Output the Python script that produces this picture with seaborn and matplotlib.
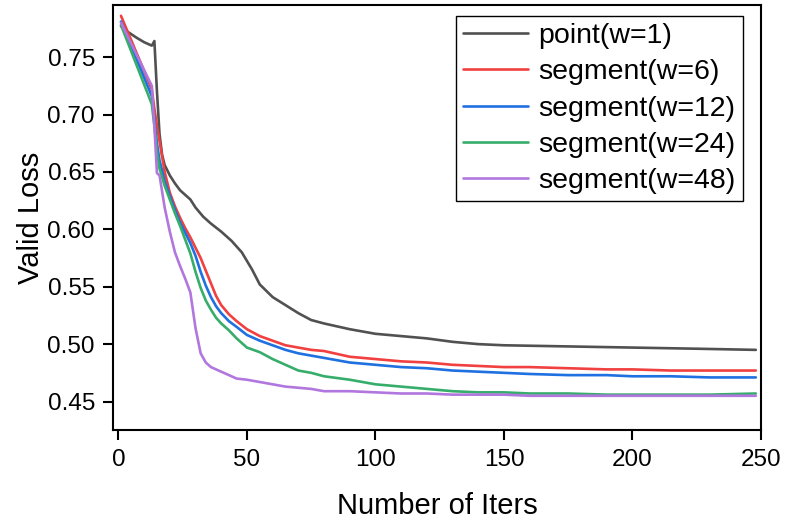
import pandas as pd
import matplotlib
matplotlib.use('Agg')
import matplotlib.pyplot as plt
import seaborn as sns

# 曲线数据
iters_point = [1, 3, 7, 10, 13, 14, 15, 16, 17, 18, 20, 22, 24, 26, 28, 30, 33, 36, 40, 44, 48, 52, 55,
               60, 65, 70, 75, 80, 90, 100, 110, 120, 130, 140, 150, 175, 200, 225, 248]
loss_point = [0.777, 0.773, 0.767, 0.763, 0.760, 0.764, 0.720, 0.683, 0.665, 0.656, 0.647, 0.640, 0.634,
              0.630, 0.626, 0.619, 0.611, 0.605, 0.598, 0.590, 0.580, 0.565, 0.552, 0.541, 0.534, 0.527,
              0.521, 0.518, 0.513, 0.509, 0.507, 0.505, 0.502, 0.500, 0.499, 0.498, 0.497, 0.496, 0.495]

iters = [1, 13, 14, 15, 16, 18, 20, 22, 24, 26, 28, 30, 32, 34, 36, 38, 40, 43, 46, 50, 55, 60, 65, 70,
         75, 80, 90, 100, 110, 120, 130, 140, 150, 160, 175, 190, 200, 215, 230, 248]
loss_w6 = [0.786, 0.722, 0.705, 0.690, 0.677, 0.650, 0.632, 0.620, 0.610, 0.601, 0.593, 0.584, 0.575,
           0.564, 0.553, 0.542, 0.534, 0.526, 0.520, 0.513, 0.507, 0.503, 0.499, 0.497, 0.495, 0.494,
           0.489, 0.487, 0.485, 0.484, 0.482, 0.481, 0.480, 0.480, 0.479, 0.478, 0.478, 0.477, 0.477, 0.477]
loss_w12 = [0.781, 0.716, 0.695, 0.675, 0.660, 0.642, 0.629, 0.617, 0.606, 0.597, 0.588, 0.577, 0.563,
            0.551, 0.541, 0.533, 0.527, 0.520, 0.515, 0.508, 0.503, 0.499, 0.495, 0.492, 0.490, 0.488,
            0.484, 0.482, 0.480, 0.479, 0.477, 0.476, 0.475, 0.474, 0.473, 0.473, 0.472, 0.472, 0.471, 0.471]
loss_w24 = [0.778, 0.709, 0.690, 0.668, 0.653, 0.638, 0.626, 0.614, 0.603, 0.591, 0.579, 0.563, 0.549,
            0.538, 0.530, 0.523, 0.518, 0.512, 0.505, 0.497, 0.493, 0.487, 0.482, 0.477, 0.475, 0.472,
            0.469, 0.465, 0.463, 0.461, 0.459, 0.458, 0.458, 0.457, 0.457, 0.456, 0.456, 0.456, 0.456, 0.457]
loss_w48 = [0.780, 0.725, 0.690, 0.649, 0.647, 0.619, 0.598, 0.580, 0.568, 0.557, 0.545, 0.514, 0.492,
            0.484, 0.480, 0.478, 0.476, 0.473, 0.470, 0.469, 0.467, 0.465, 0.463, 0.462, 0.461, 0.459,
            0.459, 0.458, 0.457, 0.457, 0.456, 0.456, 0.456, 0.455, 0.455, 0.455, 0.455, 0.455, 0.455, 0.455]

labels = ['point(w=1)', 'segment(w=6)', 'segment(w=12)', 'segment(w=24)', 'segment(w=48)']
colors = ['#515151', '#f14040', '#1f70e0', '#37ad6b', '#b177de']

sns.set_style('ticks')
plt.rcParams['font.family'] = ['Liberation Sans', 'DejaVu Sans']

fig = plt.figure(figsize=(7.88, 5.26), dpi=100)
ax = fig.add_axes([0.1434, 0.1825, 0.8223, 0.808])

series = [(iters_point, loss_point), (iters, loss_w6), (iters, loss_w12), (iters, loss_w24), (iters, loss_w48)]
for (x, y), lab, c in zip(series, labels, colors):
    sns.lineplot(x=x, y=y, ax=ax, color=c, label=lab, linewidth=1.9)

ax.set_xlim(-2.1, 250)
ax.set_ylim(0.4252, 0.7954)
ax.set_xticks([0, 50, 100, 150, 200, 250])
ax.set_yticks([0.45, 0.50, 0.55, 0.60, 0.65, 0.70, 0.75])
ax.set_yticklabels(['0.45', '0.50', '0.55', '0.60', '0.65', '0.70', '0.75'])

for s in ax.spines.values():
    s.set_linewidth(1.5)
    s.set_color('black')
ax.tick_params(axis='both', direction='out', length=7, width=1.5, labelsize=17.5, colors='black')
ax.tick_params(axis='x', pad=7)
ax.tick_params(axis='y', pad=6)

ax.set_xlabel('Number of Iters', fontsize=21, labelpad=15, color='black')
ax.set_ylabel('Valid Loss', fontsize=21, labelpad=2, color='black')

leg = ax.legend(loc='upper right', bbox_to_anchor=(0.972, 0.974), fontsize=20.5, frameon=True,
                fancybox=False, edgecolor='black', framealpha=1, borderaxespad=0, borderpad=0.25,
                handlelength=2.3, handletextpad=0.35, labelspacing=0.36)
leg.get_frame().set_linewidth(1.0)
for t in leg.get_texts():
    t.set_color('black')

fig.savefig('out.png', dpi=100)
